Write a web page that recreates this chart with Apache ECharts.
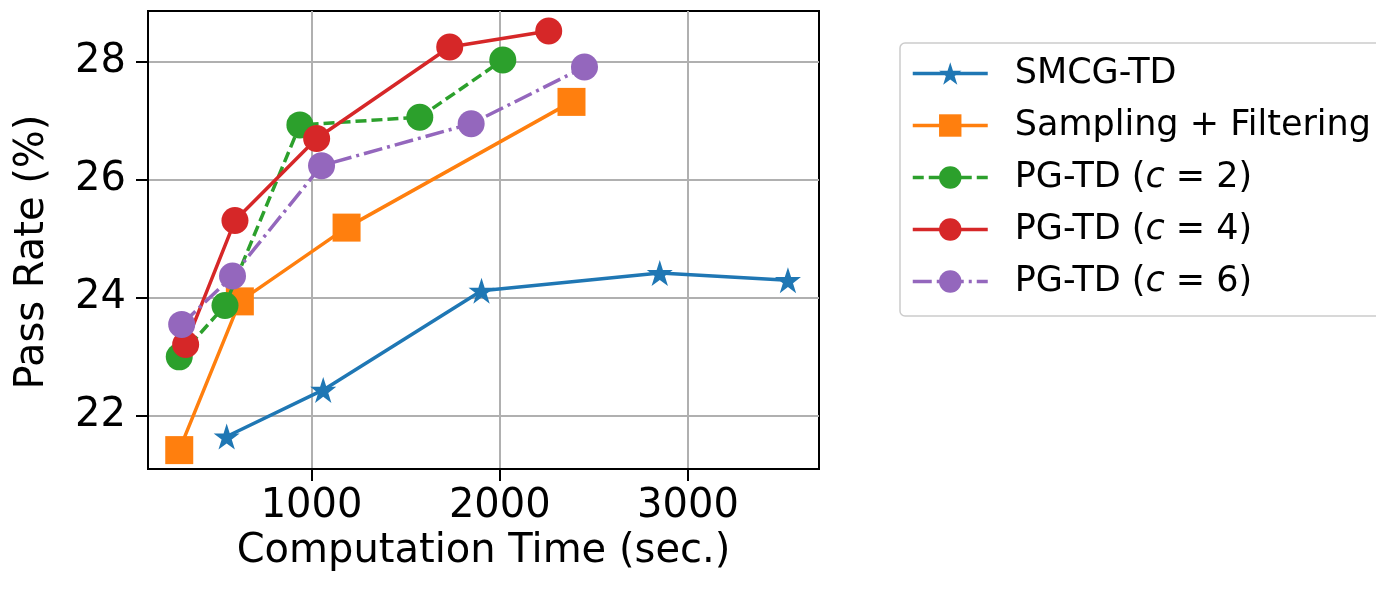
<!DOCTYPE html>
<html>
<head>
<meta charset="utf-8">
<script src="https://cdn.jsdelivr.net/npm/echarts@6/dist/echarts.min.js"></script>
<style>
html,body{margin:0;padding:0;background:#fff;}
#chart{width:1376px;height:589px;}
</style>
</head>
<body>
<div id="chart"></div>
<script>
// ---- data ----
const seriesNames = ['SMCG-TD', 'Sampling + Filtering', 'PG-TD (c = 2)', 'PG-TD (c = 4)', 'PG-TD (c = 6)'];
const smcg     = [[549,21.65],[1062,22.44],[1903,24.12],[2850,24.42],[3531,24.30]];
const sampling = [[297,21.42],[619,23.94],[1186,25.19],[2381,27.32]];
const pgtd2    = [[297,23.00],[540,23.87],[938,26.93],[1575,27.06],[2016,28.03]];
const pgtd4    = [[331,23.21],[593,25.31],[1027,26.70],[1734,28.25],[2260,28.52]];
const pgtd6    = [[310,23.55],[580,24.37],[1053,26.24],[1848,26.95],[2450,27.91]];
const xTicks = [1000, 2000, 3000];
const yTicks = [22, 24, 26, 28];
const xTitle = 'Computation Time (sec.)';
const yTitle = 'Pass Rate (%)';

// ---- styling ----
const FONT = 'DejaVu Sans';
const colors = ['#1f77b4', '#ff7f0e', '#2ca02c', '#d62728', '#9467bd'];
const STAR = 'path://M50,0 L61.8,35.4 L99,35.4 L69.1,57.3 L80.9,93 L50,71 L19.1,93 L30.9,57.3 L1,35.4 L38.2,35.4 Z';

function mk(i, data, symbol, size, lineType) {
  return {
    name: seriesNames[i],
    type: 'line',
    data: data,
    symbol: symbol,
    symbolSize: size,
    showAllSymbol: true,
    color: colors[i],
    itemStyle: { color: colors[i], opacity: 1 },
    lineStyle: { color: colors[i], width: 3.5, type: lineType },
    emphasis: { disabled: true },
    animation: false,
    z: 2 + i
  };
}

const chart = echarts.init(document.getElementById('chart'), null, { renderer: 'canvas' });
const option = {
  animation: false,
  backgroundColor: '#ffffff',
  textStyle: { fontFamily: FONT },
  grid: {
    left: 148, right: 557, top: 11, bottom: 120,
    show: true, borderColor: '#000', borderWidth: 2, backgroundColor: 'transparent'
  },
  legend: {
    left: 900, top: 43,
    orient: 'vertical',
    itemWidth: 75, itemHeight: 28, itemGap: 17,
    padding: [13, 12, 17, 11],
    borderColor: '#cccccc', borderWidth: 1.5, borderRadius: 5,
    backgroundColor: '#fff',
    lineStyle: { width: 3.5 },
    data: seriesNames,
    formatter: function (name) {
      const m = name.match(/^(.*\()c( = \d\))$/);
      if (m) return '{n|' + m[1] + '}{i|c}{n|' + m[2] + '}';
      return '{n|' + name + '}';
    },
    textStyle: {
      fontFamily: FONT, fontSize: 35, color: '#000', padding: [0, 0, 0, 22],
      rich: {
        n: { fontFamily: FONT, fontSize: 35, color: '#000', lineHeight: 40 },
        i: { fontFamily: FONT, fontSize: 35, fontStyle: 'italic', color: '#000', lineHeight: 40 }
      }
    }
  },
  xAxis: {
    type: 'value',
    min: 131, max: 3696,
    name: xTitle, nameLocation: 'middle', nameGap: 62,
    nameTextStyle: { fontFamily: FONT, fontSize: 40, color: '#000' },
    axisLine: { show: true, lineStyle: { color: '#000', width: 2 } },
    axisTick: { show: true, inside: false, length: 12, customValues: xTicks, lineStyle: { color: '#000', width: 2 } },
    axisLabel: { customValues: xTicks, fontFamily: FONT, fontSize: 40, color: '#000', margin: 18, formatter: v => String(v) },
    splitLine: { show: true, lineStyle: { color: '#b0b0b0', width: 2 } }
  },
  yAxis: {
    type: 'value',
    min: 21.1, max: 28.86,
    name: yTitle, nameLocation: 'middle', nameGap: 95, nameRotate: 90,
    nameTextStyle: { fontFamily: FONT, fontSize: 40, color: '#000', padding: [0, 24, 0, 0] },
    axisLine: { show: true, lineStyle: { color: '#000', width: 2 } },
    axisTick: { show: true, inside: false, length: 12, customValues: yTicks, lineStyle: { color: '#000', width: 2 } },
    axisLabel: { customValues: yTicks, fontFamily: FONT, fontSize: 40, color: '#000', margin: 22, formatter: v => String(v) },
    splitLine: { show: true, lineStyle: { color: '#b0b0b0', width: 2 } }
  },
  series: [
    mk(0, smcg, STAR, 26, 'solid'),
    mk(1, sampling, 'rect', 28, 'solid'),
    mk(2, pgtd2, 'circle', 27, [11, 5]),
    mk(3, pgtd4, 'circle', 27, 'solid'),
    mk(4, pgtd6, 'circle', 27, [19, 5, 3, 5])
  ]
};
chart.setOption(option);
</script>
</body>
</html>
